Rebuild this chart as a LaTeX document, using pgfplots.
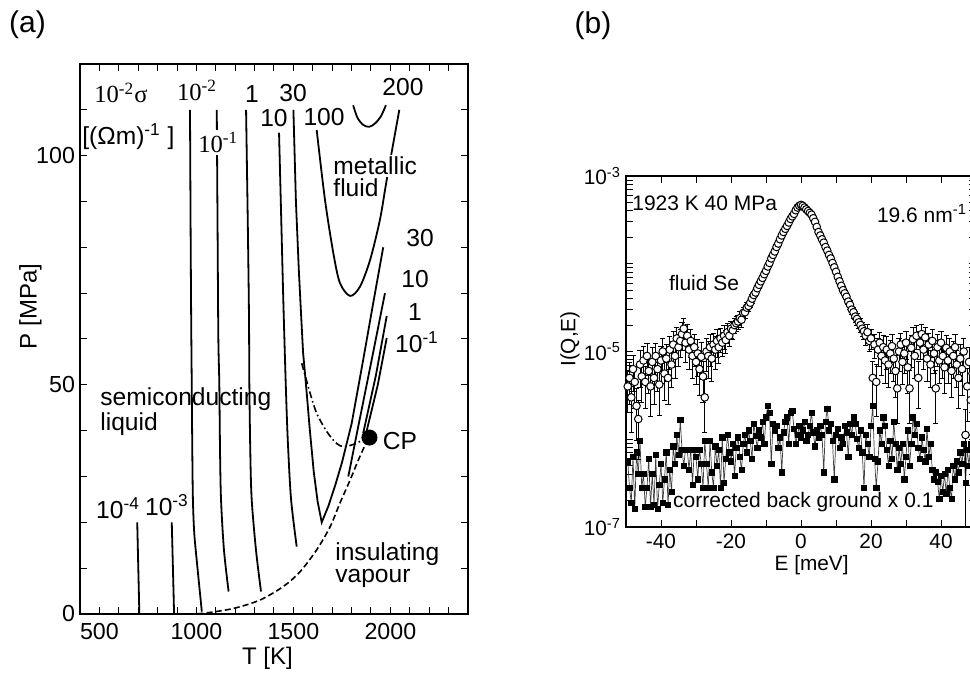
\documentclass[border=0pt]{standalone}
\usepackage{fontspec}
\setmainfont{Liberation Sans}
\newfontfamily\timesf{Liberation Serif}
\usepackage{pgfplots}
\usepackage{pgfplotstable}
\pgfplotsset{compat=1.18}

\newcommand\fa{\fontsize{12.3}{11.2}\selectfont}
\newcommand\fb{\fontsize{10.5}{12.5}\selectfont}

% fluid Se, 1923 K 40 MPa, Q = 19.6 nm^-1 : E [meV], I(Q,E), relative error
\pgfplotstableread{
E I r
-49.5 4.0e-6 0.5
-49.0 5.0e-6 0.5
-48.5 3.0e-6 0.6
-48.0 6.3e-6 0.45
-47.5 4.5e-6 0.5
-47.0 2.4e-6 0.6
-46.5 1.7e-6 0.65
-46.0 7.1e-6 0.45
-45.5 5.2e-6 0.5
-45.0 7.9e-6 0.45
-44.5 4.5e-6 0.5
-44.0 8.9e-6 0.4
-43.5 6.0e-6 0.45
-43.0 4.0e-6 0.55
-42.5 7.6e-6 0.45
-42.0 5.0e-6 0.5
-41.5 8.9e-6 0.4
-41.0 6.3e-6 0.45
-40.5 4.2e-6 0.55
-40.0 7.9e-6 0.45
-39.5 1.0e-5 0.4
-39.0 5.6e-6 0.5
-38.5 8.3e-6 0.45
-38.0 5.0e-6 0.5
-37.5 1.05e-5 0.4
-37.0 7.1e-6 0.45
-36.5 1.2e-5 0.4
-36.0 8.9e-6 0.45
-35.5 1.41e-5 0.35
-35.0 1.12e-5 0.4
-34.5 1.32e-5 0.35
-34.0 1.58e-5 0.35
-33.5 1.82e-5 0.3
-33.0 1.26e-5 0.4
-32.5 1.51e-5 0.35
-32.0 1.05e-5 0.4
-31.5 1.32e-5 0.35
-31.0 8.9e-6 0.45
-30.5 1.12e-5 0.4
-30.0 7.6e-6 0.45
-29.5 9.5e-6 0.45
-29.0 6.3e-6 0.5
-28.5 8.7e-6 0.45
-28.0 5.2e-6 0.5
-27.5 3.0e-6 0.6
-27.0 1.0e-5 0.4
-26.5 8.9e-6 0.45
-26.0 1.12e-5 0.4
-25.5 8.3e-6 0.45
-25.0 1.2e-5 0.35
-24.5 1.05e-5 0.4
-24.0 1.32e-5 0.35
-23.5 1.12e-5 0.35
-23.0 1.41e-5 0.3
-22.5 1.26e-5 0.3
-22.0 1.51e-5 0.3
-21.5 1.35e-5 0.3
-21.0 1.66e-5 0.25
-20.5 1.51e-5 0.25
-20.0 1.82e-5 0.22
-19.5 1.74e-5 0.22
-19.0 2.0e-5 0.2
-18.5 2.1e-5 0.2
-18.0 2.2e-5 0.18
-17.5 2.4e-5 0.18
-17.0 2.3e-5 0.18
-16.5 2.75e-5 0.15
-16.0 2.8e-5 0.15
-15.5 3.16e-5 0.14
-15.0 3.3e-5 0.14
-14.5 3.6e-5 0.12
-14.0 4.0e-5 0.12
-13.5 4.4e-5 0.1
-13.0 4.7e-5 0.1
-12.5 5.25e-5 0.1
-12.0 5.75e-5 0.09
-11.5 6.3e-5 0.08
-11.0 6.9e-5 0.08
-10.5 7.6e-5 0.07
-10.0 8.3e-5 0.07
-9.5 9.3e-5 0.06
-9.0 1.02e-4 0.06
-8.5 1.15e-4 0.05
-8.0 1.26e-4 0.05
-7.5 1.38e-4 0.05
-7.0 1.55e-4 0.04
-6.5 1.70e-4 0.04
-6.0 1.9e-4 0.04
-5.5 2.1e-4 0.04
-5.0 2.3e-4 0.03
-4.5 2.5e-4 0.03
-4.0 2.7e-4 0.03
-3.5 2.95e-4 0.03
-3.0 3.24e-4 0.03
-2.5 3.47e-4 0.03
-2.0 3.7e-4 0.03
-1.5 4.07e-4 0.03
-1.0 4.37e-4 0.03
-0.5 4.57e-4 0.03
0.0 4.68e-4 0.03
0.5 4.57e-4 0.03
1.0 4.37e-4 0.03
1.5 4.17e-4 0.03
2.0 3.98e-4 0.03
2.5 3.8e-4 0.03
3.0 3.63e-4 0.03
3.5 3.3e-4 0.03
4.0 3.0e-4 0.03
4.5 2.63e-4 0.03
5.0 2.3e-4 0.03
5.5 2.1e-4 0.04
6.0 1.9e-4 0.04
6.5 1.74e-4 0.04
7.0 1.55e-4 0.04
7.5 1.41e-4 0.05
8.0 1.26e-4 0.05
8.5 1.15e-4 0.05
9.0 1.02e-4 0.06
9.5 9.1e-5 0.06
10.0 8.1e-5 0.07
10.5 7.1e-5 0.07
11.0 6.3e-5 0.08
11.5 5.6e-5 0.08
12.0 5.0e-5 0.09
12.5 4.6e-5 0.1
13.0 4.2e-5 0.1
13.5 3.7e-5 0.1
14.0 3.4e-5 0.12
14.5 3.0e-5 0.12
15.0 2.8e-5 0.14
15.5 2.5e-5 0.14
16.0 2.35e-5 0.15
16.5 2.15e-5 0.15
17.0 2.0e-5 0.18
17.5 1.82e-5 0.18
18.0 1.7e-5 0.2
18.5 1.51e-5 0.22
19.0 1.66e-5 0.22
19.5 1.32e-5 0.25
20.0 1.41e-5 0.25
20.5 5.0e-6 0.55
21.0 1.2e-5 0.3
21.5 4.5e-6 0.6
22.0 1.05e-5 0.35
22.5 1.26e-5 0.3
23.0 8.9e-6 0.4
23.5 1.12e-5 0.35
24.0 7.9e-6 0.45
24.5 1.05e-5 0.4
25.0 7.1e-6 0.45
25.5 9.5e-6 0.4
26.0 1.15e-5 0.35
26.5 8.3e-6 0.45
27.0 6.0e-6 0.5
27.5 3.8e-6 0.6
28.0 1.0e-5 0.4
28.5 1.2e-5 0.35
29.0 7.6e-6 0.45
29.5 9.5e-6 0.4
30.0 1.26e-5 0.35
30.5 6.6e-6 0.5
31.0 3.8e-6 0.6
31.5 1.1e-5 0.4
32.0 1.38e-5 0.35
32.5 8.9e-6 0.45
33.0 1.51e-5 0.3
33.5 5.0e-6 0.55
34.0 1.26e-5 0.35
34.5 1.58e-5 0.3
35.0 1.05e-5 0.4
35.5 1.45e-5 0.3
36.0 8.3e-6 0.45
36.5 1.2e-5 0.35
37.0 7.1e-6 0.45
37.5 1.32e-5 0.35
38.0 9.5e-6 0.4
38.5 3.8e-6 0.6
39.0 1.12e-5 0.4
39.5 7.9e-6 0.45
40.0 1.26e-5 0.35
40.5 8.9e-6 0.45
41.0 6.6e-6 0.5
41.5 1.1e-5 0.4
42.0 7.9e-6 0.45
42.5 1.0e-5 0.4
43.0 6.0e-6 0.5
43.5 8.9e-6 0.45
44.0 1.12e-5 0.4
44.5 7.1e-6 0.45
45.0 5.0e-6 0.55
45.5 8.3e-6 0.45
46.0 6.3e-6 0.5
46.5 1.0e-5 0.4
47.0 1.12e-6 0.97
47.5 4.0e-6 0.6
48.0 7.6e-6 0.45
48.5 2.8e-6 0.6
49.0 5.6e-6 0.5
49.5 4.5e-6 0.5
}\fluidse

% corrected background x 0.1 : E [meV], I(Q,E)
\pgfplotstableread{
E I
-49.5 5.6e-7
-49.0 2.8e-7
-48.5 1.9e-7
-48.0 6.3e-7
-47.5 1.6e-7
-47.0 7.1e-7
-46.5 4.0e-7
-46.0 9.5e-7
-45.5 2.8e-7
-45.0 4.0e-7
-44.5 1.7e-7
-44.0 2.8e-7
-43.5 6.0e-7
-43.0 1.7e-7
-42.5 4.0e-7
-42.0 1.8e-7
-41.5 6.6e-7
-41.0 1.6e-7
-40.5 3.0e-7
-40.0 5.2e-7
-39.5 1.9e-7
-39.0 3.5e-7
-38.5 7.1e-7
-38.0 1.8e-7
-37.5 4.5e-7
-37.0 2.5e-7
-36.5 8.3e-7
-36.0 5.2e-7
-35.5 1.12e-6
-35.0 6.6e-7
-34.5 1.66e-6
-34.0 7.6e-7
-33.5 5.0e-7
-33.0 7.6e-7
-32.5 7.6e-7
-32.0 4.5e-7
-31.5 7.6e-7
-31.0 3.0e-7
-30.5 7.6e-7
-30.0 6.3e-7
-29.5 3.5e-7
-29.0 7.6e-7
-28.5 5.2e-7
-28.0 2.8e-7
-27.5 9.5e-7
-27.0 5.2e-7
-26.5 2.8e-7
-26.0 9.5e-7
-25.5 4.2e-7
-25.0 2.8e-7
-24.5 8.3e-7
-24.0 5.0e-7
-23.5 7.6e-7
-23.0 2.8e-7
-22.5 1.05e-6
-22.0 3.2e-7
-21.5 6.0e-7
-21.0 1.12e-6
-20.5 7.1e-7
-20.0 5.6e-7
-19.5 8.9e-7
-19.0 3.8e-7
-18.5 7.9e-7
-18.0 1.05e-6
-17.5 6.3e-7
-17.0 4.5e-7
-16.5 8.9e-7
-16.0 1.12e-6
-15.5 7.1e-7
-15.0 1.26e-6
-14.5 9.5e-7
-14.0 6.0e-7
-13.5 1.51e-6
-13.0 1.10e-6
-12.5 7.9e-7
-12.0 1.26e-6
-11.5 1.05e-6
-11.0 1.58e-6
-10.5 8.9e-7
-10.0 1.78e-6
-9.5 2.4e-6
-9.0 2.0e-6
-8.5 5.2e-7
-8.0 1.51e-6
-7.5 1.26e-6
-7.0 1.41e-6
-6.5 7.9e-7
-6.0 1.05e-6
-5.5 4.2e-7
-5.0 1.20e-6
-4.5 1.58e-6
-4.0 1.78e-6
-3.5 8.9e-7
-3.0 2.0e-6
-2.5 2.1e-6
-2.0 1.32e-6
-1.5 8.9e-7
-1.0 1.12e-6
-0.5 1.41e-6
0.0 1.05e-6
0.5 1.26e-6
1.0 1.58e-6
1.5 9.5e-7
2.0 1.12e-6
2.5 1.41e-6
3.0 2.0e-6
3.5 1.20e-6
4.0 8.3e-7
4.5 1.26e-6
5.0 1.05e-6
5.5 1.41e-6
6.0 1.12e-6
6.5 4.2e-7
7.0 1.58e-6
7.5 2.24e-6
8.0 1.26e-6
8.5 1.51e-6
9.0 9.5e-7
9.5 3.5e-7
10.0 1.12e-6
10.5 1.32e-6
11.0 7.9e-7
11.5 1.05e-6
12.0 8.9e-7
12.5 1.41e-6
13.0 1.20e-6
13.5 6.3e-7
14.0 1.51e-6
14.5 1.12e-6
15.0 1.78e-6
15.5 1.51e-6
16.0 1.0e-6
16.5 7.9e-7
17.0 1.26e-6
17.5 7.1e-7
18.0 2.8e-7
18.5 1.12e-6
19.0 8.9e-7
19.5 6.3e-7
20.0 1.41e-6
20.5 2.4e-6
21.0 6.0e-7
21.5 2.8e-7
22.0 5.6e-7
22.5 1.26e-6
23.0 8.9e-7
23.5 1.78e-6
24.0 1.41e-6
24.5 7.6e-7
25.0 5.0e-7
25.5 9.5e-7
26.0 6.0e-7
26.5 1.58e-6
27.0 8.9e-7
27.5 4.5e-7
28.0 7.9e-7
28.5 5.2e-7
29.0 8.9e-7
29.5 3.5e-7
30.0 6.3e-7
30.5 1.26e-6
31.0 5.0e-7
31.5 8.9e-7
32.0 1.78e-6
32.5 1.12e-6
33.0 1.51e-6
33.5 7.9e-7
34.0 6.0e-7
34.5 1.05e-6
35.0 7.6e-7
35.5 5.6e-7
36.0 1.32e-6
36.5 6.3e-7
37.0 8.9e-7
37.5 4.5e-7
38.0 3.5e-7
38.5 4.2e-7
39.0 3.3e-7
39.5 2.1e-7
40.0 3.8e-7
40.5 2.5e-7
41.0 4.0e-7
41.5 2.4e-7
42.0 4.5e-7
42.5 2.8e-7
43.0 2.1e-7
43.5 5.0e-7
44.0 3.5e-7
44.5 5.6e-7
45.0 4.2e-7
45.5 7.1e-7
46.0 5.2e-7
46.5 8.9e-7
47.0 3.2e-7
47.5 7.6e-7
48.0 5.0e-7
48.5 8.9e-7
49.0 6.3e-7
49.5 7.1e-7
}\bground

\begin{document}
\begin{tikzpicture}
\useasboundingbox (0pt,0pt) rectangle (485pt,339pt);

\pgfplotsset{
  every axis/.append style={
    scale only axis, anchor=south west,
    tick align=inside, major tick length=3.5pt, minor tick length=3.5pt,
    tick style={black, line width=0.5pt},
    axis line style={line width=0.6pt},
    /pgf/number format/assume math mode=true,
    /pgf/number format/1000 sep={},
  },
}

% ---------------- (a) conductivity map ----------------
\begin{axis}[
  at={(40pt,32pt)}, width=194pt, height=275pt,
  xmin=400, xmax=2400, ymin=0, ymax=120,
  xtick={500,1000,1500,2000}, minor xtick={400,500,...,2400},
  ytick={0,50,100}, minor ytick={0,10,...,120},
  ticklabel style={font=\fontsize{11.6}{13}\selectfont},
  xticklabel style={yshift=-1pt},
  yticklabel style={xshift=1pt},
  iso/.style={black, line width=0.9pt},
]
\addplot[iso] coordinates {(695,20) (706,0)};
\addplot[iso] coordinates {(873,20) (885,0)};
\addplot[iso, smooth] coordinates {(967,110) (970,85) (973,65) (976,50) (979,35) (982,25) (989,17.6) (1005,10.3) (1028,0.5)};
\addplot[iso, smooth] coordinates {(1105,110) (1109,85) (1113,60.5) (1118,50.4) (1122,35) (1127,24.9) (1142,14) (1166,4.9)};
\addplot[iso, smooth] coordinates {(1256,110) (1265,85) (1271,65) (1273,50) (1278,35) (1285,25) (1307,14) (1333,4.9)};
\addplot[iso, smooth] coordinates {(1426,105) (1438,85) (1447,70) (1455,58) (1463,47) (1472,37) (1488,25) (1517,14.7)};
\addplot[iso] coordinates {(1500,110) (1513,90) (1528,75) (1540,65) (1550,57) (1565,50) (1585,40) (1605,31) (1625,24.5) (1646,20) (1680,23.5) (1715,28) (1750,33) (1800,41.5) (1860,55.5) (1910,67.5) (1963,80)};
\addplot[iso, smooth] coordinates {(1620,105.6) (1663,90.3) (1706,78.7) (1740,72.2) (1792,69.4) (1843,71.4) (1895,77.2) (1946,86) (1981,94.7) (2046,110)};
\addplot[iso, smooth] coordinates {(1808,111) (1830,108.3) (1860,106.7) (1891,106.3) (1920,107) (1950,108.5) (1977,111)};
\addplot[iso] coordinates {(1783,30) (1830,40) (1880,50.5) (1925,60) (1972,70)};
\addplot[iso] coordinates {(1860,39.5) (1925,52) (1981,65)};
\addplot[iso] coordinates {(1878,40) (1935,50) (1981,60.2)};
% liquid-vapour coexistence curve
\addplot[black, smooth, line width=0.8pt, dash pattern=on 3pt off 1.6pt] coordinates {(958,0) (1036,0.15) (1190,1.2) (1328,3.05) (1448,6) (1534,9.2) (1620,14) (1689,19) (1740,24.2) (1792,29.2) (1835,33.6) (1878,37.6) (1892,38.5)};
\addplot[black, smooth, line width=0.8pt, dash pattern=on 3.5pt off 1.5pt on 0.8pt off 1.5pt] coordinates {(1543,54.7) (1586,48.2) (1620,43.8) (1672,39.8) (1723,37.2) (1760,36.5) (1809,37) (1852,37.8) (1892,38.5)};
% critical point
\addplot[only marks, mark=*, mark size=3.8pt, mark options={fill=black, draw=black}] coordinates {(1892,38.5)};

\node[font=\fa] at (axis cs:611,113.7) {\timesf 10\textsuperscript{-2}σ};
\node[font=\fa, anchor=west, inner sep=0pt] at (axis cs:410,104.1) {[(Ωm)\textsuperscript{-1} ]};
\node[font=\fa] at (axis cs:1003,114.3) {\timesf 10\textsuperscript{-2}};
\node[font=\fa, fill=white, inner sep=1pt] at (axis cs:1113,102.9) {\timesf 10\textsuperscript{-1}};
\node[font=\fa] at (axis cs:1287,113.5) {1};
\node[font=\fa] at (axis cs:1498,113.7) {30};
\node[font=\fa] at (axis cs:1400,108.2) {10};
\node[font=\fa] at (axis cs:1658,108.4) {100};
\node[font=\fa] at (axis cs:2065,115) {200};
\node[font=\fa, anchor=west, fill=white, inner sep=1pt] at (axis cs:1694,97.8) {metallic};
\node[font=\fa, anchor=north west, inner sep=1pt] at (axis cs:1694,95.4) {fluid};
\node[font=\fa] at (axis cs:2153,82) {30};
\node[font=\fa] at (axis cs:2127,73.1) {10};
\node[font=\fa] at (axis cs:2127,65.9) {1};
\node[font=\fa] at (axis cs:2137,59.3) {10\textsuperscript{-1}};
\node[font=\fa, anchor=west, align=left, inner sep=0pt] at (axis cs:503,44.1) {semiconducting\\liquid};
\node[font=\fa] at (axis cs:2049,37.7) {CP};
\node[font=\fa] at (axis cs:596,23.1) {10\textsuperscript{-4}};
\node[font=\fa] at (axis cs:848,23.8) {10\textsuperscript{-3}};
\node[font=\fa, anchor=west, align=left, inner sep=0pt] at (axis cs:1714,10.6) {insulating\\vapour};
\end{axis}

% ---------------- (b) dynamic structure factor ----------------
\begin{axis}[
  at={(313pt,75.5pt)}, width=175pt, height=175.5pt,
  xmin=-50, xmax=50, ymode=log, ymin=1e-7, ymax=1e-3,
  xtick={-40,-20,0,20,40}, minor xtick={-50,-30,-10,10,30,50},
  ytick={1e-7,1e-6,1e-5,1e-4,1e-3}, minor ytick={},
  yticklabels={10\textsuperscript{-7},,10\textsuperscript{-5},,10\textsuperscript{-3}},
  ticklabel style={font=\fontsize{10.4}{12}\selectfont},
  yticklabel style={xshift=1pt},
]
\addplot[color=black!75, line width=0.35pt, mark=square*, mark size=1.3pt,
  mark options={solid, fill=black, draw=black}] table[x=E, y=I] {\bground};
\addplot[only marks, mark=*, mark size=1.9pt,
  mark options={fill=white, draw=black, line width=0.5pt},
  error bars/.cd, y dir=both, y explicit relative,
  error bar style={black, line width=0.4pt},
  error mark options={rotate=90, mark size=1.3pt, line width=0.4pt}]
  table[x=E, y=I, y error=r] {\fluidse};
\node[font=\fb, anchor=west, inner sep=0pt] at (axis cs:-48.3,4.86e-4) {1923 K 40 MPa};
\node[font=\fb, anchor=west, inner sep=0pt] at (axis cs:21.6,3.69e-4) {19.6 nm\textsuperscript{-1}};
\node[font=\fb] at (axis cs:-27.7,6.1e-5) {fluid Se};
\node[font=\fb, anchor=west, fill=white, inner sep=1pt] at (axis cs:-37.2,1.93e-7) {corrected back ground x 0.1};
\end{axis}

% panel letters and axis titles
\node[font=\fontsize{15}{17}\selectfont] at (13.75pt,326.5pt) {(a)};
\node[font=\fontsize{15}{17}\selectfont] at (296.5pt,326.3pt) {(b)};
\node[font=\fontsize{12}{14}\selectfont, rotate=90] at (15.25pt,185.75pt) {P [MPa]};
\node[font=\fontsize{12}{14}\selectfont] at (133.75pt,10pt) {T [K]};
\node[font=\fontsize{10.4}{12}\selectfont, rotate=90] at (285pt,169.5pt) {I(Q,E)};
\node[font=\fontsize{10.4}{12}\selectfont] at (405.8pt,56.5pt) {E [meV]};
\end{tikzpicture}
\end{document}
